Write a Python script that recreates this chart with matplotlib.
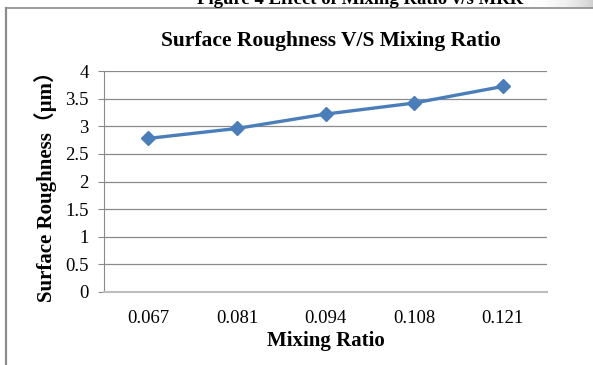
import numpy as np
import matplotlib
matplotlib.use("Agg")
import matplotlib.pyplot as plt
from matplotlib.lines import Line2D

# data
mixing_ratio = ["0.067", "0.081", "0.094", "0.108", "0.121"]
roughness = [2.78, 2.96, 3.22, 3.42, 3.72]
y_ticks = [0, 0.5, 1, 1.5, 2, 2.5, 3, 3.5, 4]

plt.rcParams['font.family'] = ['Liberation Serif', 'DejaVu Serif']

W, H = 593, 365
fig = plt.figure(figsize=(W / 100, H / 100), dpi=100)

# faint page shadow at the top right corner
sh = fig.add_axes([530 / W, 1 - 8 / H, 63 / W, 8 / H])
grad = np.linspace(0, 1, 64) ** 1.5
sh.imshow(grad[None, :], cmap='Greys', vmin=0, vmax=3.5, aspect='auto')
sh.axis('off')

# chart frame (left and top edges visible)
fig.add_artist(Line2D([5.5 / W, 5.5 / W], [0, 1 - 8 / H], transform=fig.transFigure,
                      color='#8c8c8c', lw=1.6))
fig.add_artist(Line2D([5.5 / W, 1], [1 - 8 / H, 1 - 8 / H], transform=fig.transFigure,
                      color='#8c8c8c', lw=1.2))

# figure caption, cut off at the top as in the source page
fig.text(0.607, 1 - 4.5 / H, "Figure 4 Effect of Mixing Ratio v/s MRR", ha='center',
         va='baseline', fontsize=13.5, fontweight='bold')

ax = fig.add_axes([104 / W, 1 - 292 / H, (547 - 104) / W, (292 - 71) / H])
x = np.arange(len(mixing_ratio))
ax.plot(x, roughness, color='#4a7ebb', lw=2.4, marker='D', markersize=7.5,
        markeredgecolor='#4a7ebb', zorder=3)

ax.set_xlim(-0.5, len(mixing_ratio) - 0.5)
ax.set_ylim(0, 4)
ax.set_yticks(y_ticks)
ax.set_yticklabels([f"{v:g}" for v in y_ticks])
ax.set_xticks(x)
ax.set_xticklabels(mixing_ratio)
ax.yaxis.grid(True, color='#8a8a8a', lw=0.9)
ax.set_axisbelow(True)

for s in ['top', 'right']:
    ax.spines[s].set_visible(False)
ax.spines['left'].set_color('#8a8a8a')
ax.spines['bottom'].set_color('#bdbdbd')
ax.spines['bottom'].set_linewidth(1.5)
ax.tick_params(axis='y', length=4, color='#8a8a8a', labelsize=13.5, pad=7)
ax.tick_params(axis='x', length=0, labelsize=13.5, pad=13)

ax.set_xlabel("Mixing Ratio", fontsize=15, fontweight='bold', labelpad=3)
ax.set_ylabel("Surface Roughness\uff08\u03bcm\uff09", fontsize=15, fontweight='bold',
              labelpad=6, family=['Liberation Serif', 'Noto Sans CJK SC', 'DejaVu Serif'])
fig.text(331 / W, 1 - 46 / H, "Surface Roughness V/S Mixing Ratio", ha='center',
         va='baseline', fontsize=15.5, fontweight='bold')

fig.savefig("out.png", dpi=100)
